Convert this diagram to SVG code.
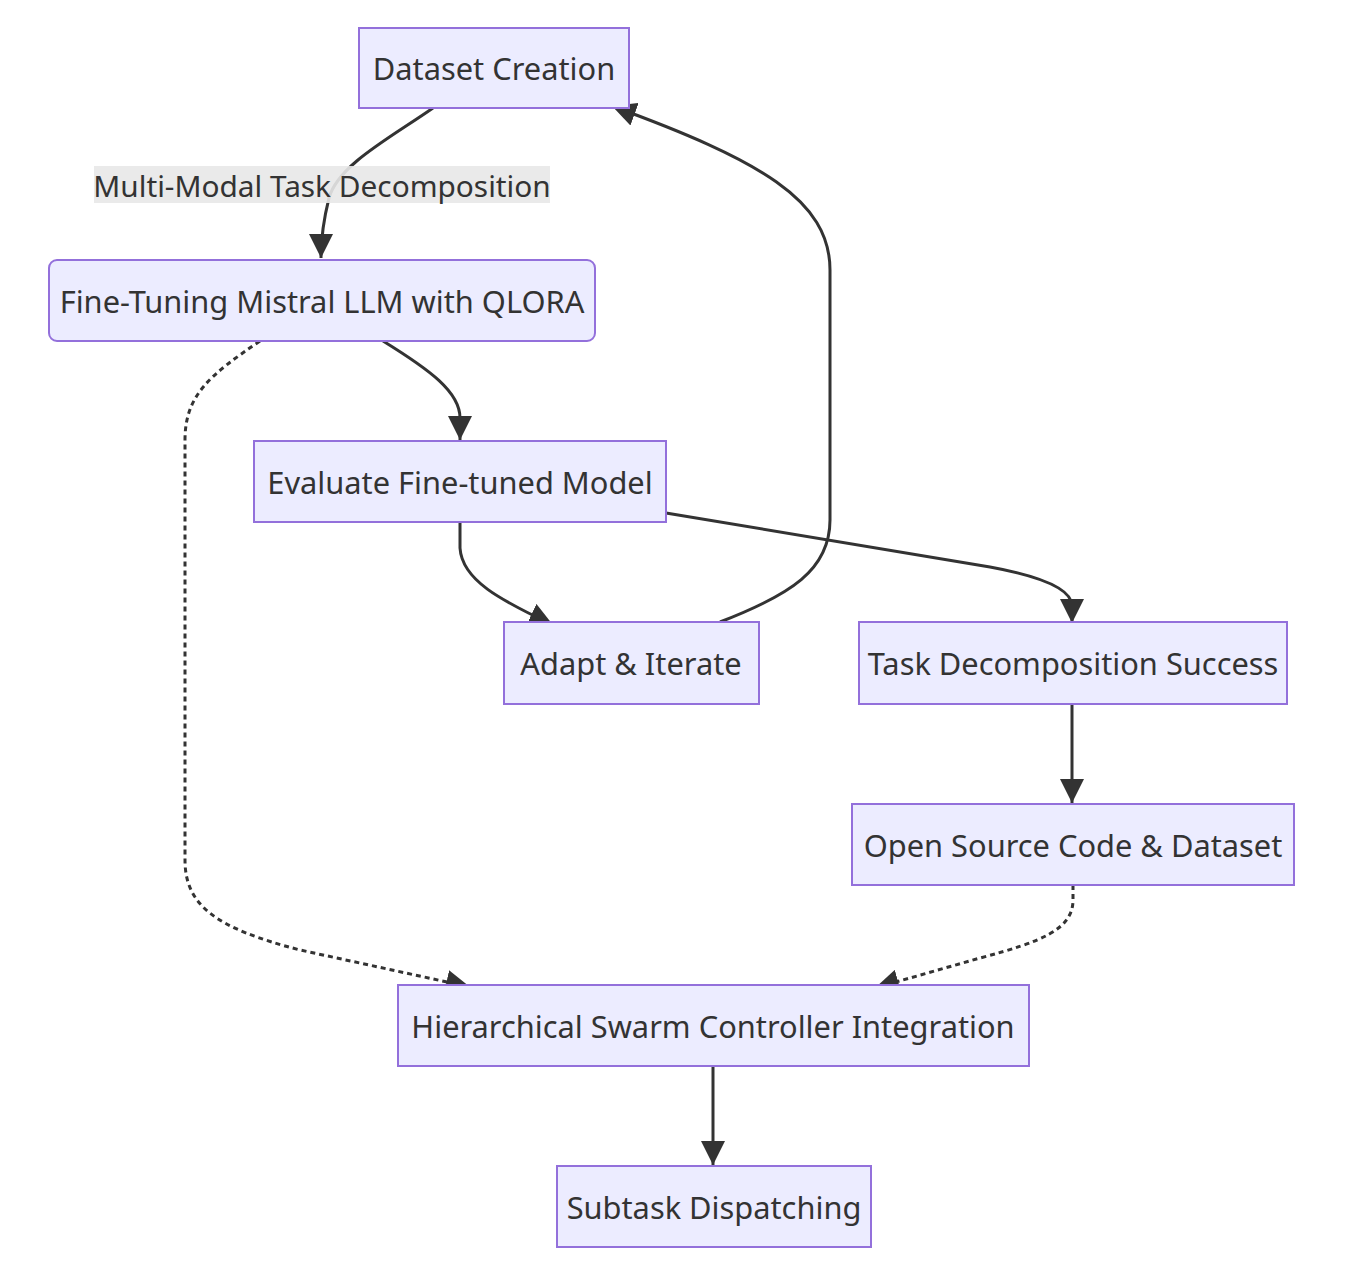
<svg xmlns="http://www.w3.org/2000/svg" width="1358" height="1268" viewBox="0 0 1358 1268">
<style>
.node rect{fill:#ECECFF;stroke:#9370DB;stroke-width:2;}
.node text,.lbl text{font-family:"Noto Sans","Open Sans",sans-serif;font-size:30.8px;fill:#333;text-anchor:middle;dominant-baseline:central;}
.lbl text{font-size:29.8px;}
.edge{fill:none;stroke:#333;stroke-width:3;}
.dot{stroke-dasharray:5 4;}
</style>
<defs>
<marker id="arr" viewBox="0 0 10 10" refX="10" refY="5" markerUnits="userSpaceOnUse" markerWidth="24" markerHeight="24" orient="auto">
<path d="M0,0 L10,5 L0,10 z" fill="#333"/>
</marker>
</defs>
<rect width="1358" height="1268" fill="#fff"/>
<g id="edges">
<path class="edge" d="M433,108 C390,138 338,165 329,198 C323,222 321,240 321,258" marker-end="url(#arr)"/>
<path class="edge" d="M383,341 C430,370 460,392 460,418 L460,440" marker-end="url(#arr)"/>
<path class="edge dot" d="M260,341 C210,375 185,395 185,440 L185,860 C185,905 215,928 300,950 L470,987" marker-end="url(#arr)"/>
<path class="edge" d="M460,522 L460,548 C462,580 500,600 553,625" marker-end="url(#arr)"/>
<path class="edge" d="M720,622 C790,595 830,570 830,520 L830,270 C830,200 760,160 612,106" marker-end="url(#arr)"/>
<path class="edge" d="M666,513 L990,567 C1050,578 1072,592 1072,606 L1072,623" marker-end="url(#arr)"/>
<path class="edge" d="M1072,704 L1072,803" marker-end="url(#arr)"/>
<path class="edge dot" d="M1073,885 L1073,900 C1073,930 1040,942 980,958 L875,988" marker-end="url(#arr)"/>
<path class="edge" d="M713,1066 L713,1165" marker-end="url(#arr)"/>
</g>
<g class="lbl" id="label-multimodal">
<rect x="94" y="166" width="456" height="37" fill="#e8e8e8" opacity="0.9"/>
<text x="322" y="185">Multi-Modal Task Decomposition</text>
</g>
<g class="node" id="node-dataset"><rect x="359" y="28" width="270" height="80"/><text x="494" y="68">Dataset Creation</text></g>
<g class="node" id="node-finetune"><rect x="49" y="260" width="546" height="81" rx="8" ry="8"/><text x="322" y="301">Fine-Tuning Mistral LLM with QLORA</text></g>
<g class="node" id="node-evaluate"><rect x="254" y="441" width="412" height="81"/><text x="460" y="482">Evaluate Fine-tuned Model</text></g>
<g class="node" id="node-adapt"><rect x="504" y="622" width="255" height="82"/><text x="631" y="663">Adapt &amp; Iterate</text></g>
<g class="node" id="node-success"><rect x="859" y="622" width="428" height="82"/><text x="1073" y="663">Task Decomposition Success</text></g>
<g class="node" id="node-opensource"><rect x="852" y="804" width="442" height="81"/><text x="1073" y="845">Open Source Code &amp; Dataset</text></g>
<g class="node" id="node-hierarchical"><rect x="398" y="985" width="631" height="81"/><text x="713" y="1026">Hierarchical Swarm Controller Integration</text></g>
<g class="node" id="node-subtask"><rect x="557" y="1166" width="314" height="81"/><text x="714" y="1207">Subtask Dispatching</text></g>
</svg>
